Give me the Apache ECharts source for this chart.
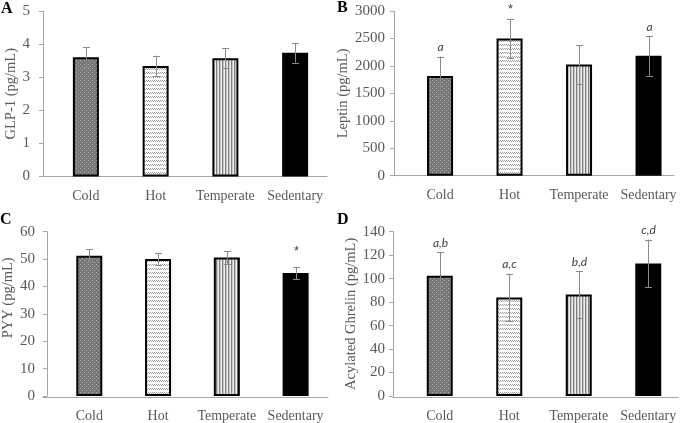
<!DOCTYPE html>
<html><head><meta charset="utf-8">
<script src="https://cdn.jsdelivr.net/npm/echarts@6/dist/echarts.min.js"></script>
<style>html,body{margin:0;padding:0;background:#fff}#c{width:685px;height:423px}</style>
</head><body><div id="c"></div>
<script>
const categories = ['Cold', 'Hot', 'Temperate', 'Sedentary'];

const glp1Values = [3.60, 3.34, 3.57, 3.74];
const glp1Err = [0.30, 0.31, 0.30, 0.30];
const glp1Ann = ['', '', '', ''];

const leptinValues = [1815, 2500, 2025, 2185];
const leptinErr = [355, 355, 355, 365];
const leptinAnn = ['a', '*', '', 'a'];

const pyyValues = [51.2, 50.0, 50.6, 44.9];
const pyyErr = [2.4, 2.2, 2.3, 2.3];
const pyyAnn = ['', '', '', '*'];

const ghrelinValues = [102.5, 84.0, 86.5, 113.0];
const ghrelinErr = [20.0, 20.3, 20.3, 20.3];
const ghrelinAnn = ['a,b', 'a,c', 'b,d', 'c,d'];

const yMax = [5, 3000, 60, 140];
const yInterval = [1, 500, 10, 20];
const yNames = ['GLP-1 (pg/mL)', 'Leptin (pg/mL)', 'PYY (pg/mL)', 'Acylated Ghrelin (pg/mL)'];
const panelLetters = ['A', 'B', 'C', 'D'];

// ---- patterns ----
function makePattern(kind) {
  const c = document.createElement('canvas');
  const ctx = c.getContext('2d');
  if (kind === 'dots') {
    c.width = 4; c.height = 4;
    ctx.fillStyle = '#767676'; ctx.fillRect(0, 0, 4, 4);
    ctx.fillStyle = '#b4b4b4';
    ctx.fillRect(0, 0, 1, 1); ctx.fillRect(2, 2, 1, 1);
  } else if (kind === 'zigzag') {
    c.width = 4; c.height = 4;
    ctx.fillStyle = '#ffffff'; ctx.fillRect(0, 0, 4, 4);
    ctx.fillStyle = '#a0a0a0';
    ctx.fillRect(0, 0, 1, 1); ctx.fillRect(2, 0, 1, 1);
    ctx.fillRect(1, 1, 1, 1); ctx.fillRect(3, 1, 1, 1);
  } else if (kind === 'vstripes') {
    c.width = 3; c.height = 3;
    ctx.fillStyle = '#eeeeee'; ctx.fillRect(0, 0, 3, 3);
    ctx.fillStyle = '#7f7f7f'; ctx.fillRect(0, 0, 1, 3);
    ctx.fillStyle = '#c8c8c8'; ctx.fillRect(1, 0, 1, 3);
  }
  return { image: c, repeat: 'repeat' };
}
const fills = [makePattern('dots'), makePattern('zigzag'), makePattern('vstripes'), '#000000'];

// ---- layout (pixels) ----
const panels = [
  { vals: glp1Values, err: glp1Err, ann: glp1Ann, grid: { left: 51, top: 11, width: 279, height: 165.5 }, axisX: 43, axisEnd: 327, labelMargin: 13, nameGap: 20, namePad: 0, annDist: 3, letter: { left: 1, top: 1 } },
  { vals: leptinValues, err: leptinErr, ann: leptinAnn, grid: { left: 405.3, top: 11, width: 278, height: 164.7 }, axisX: 394, axisEnd: 674, labelMargin: 9, nameGap: 39, namePad: 0, annDist: 3, letter: { left: 337, top: 0 } },
  { vals: pyyValues, err: pyyErr, ann: pyyAnn, grid: { left: 51, top: 231.7, width: 279, height: 166 }, axisX: 43, axisEnd: 328, labelMargin: 12, nameGap: 27, namePad: 32, annDist: 9, letter: { left: 0, top: 212 } },
  { vals: ghrelinValues, err: ghrelinErr, ann: ghrelinAnn, grid: { left: 405, top: 231.7, width: 278, height: 166 }, axisX: 393, axisEnd: 678, labelMargin: 8, nameGap: 31, namePad: 0, annDist: 3, letter: { left: 337, top: 212 } }
];

const grids = [], xAxes = [], yAxes = [], series = [], titles = [];
const serif = 'Liberation Serif';
const gray = '#595959';

panels.forEach((p, k) => {
  grids.push(p.grid);
  xAxes.push({
    type: 'category', gridIndex: 2 * k, data: categories,
    axisLine: { show: false }, axisTick: { show: false },
    axisLabel: { color: gray, fontSize: 14, fontFamily: serif, margin: 13, interval: 0 }
  });
  yAxes.push({
    type: 'value', gridIndex: 2 * k, min: 0, max: yMax[k], interval: yInterval[k],
    offset: p.grid.left - p.axisX,
    name: yNames[k], nameLocation: 'middle', nameGap: p.nameGap, nameRotate: 90,
    nameTextStyle: { color: gray, fontSize: 14.5, fontFamily: serif, padding: [0, 0, 0, p.namePad] },
    axisLine: { show: true, lineStyle: { color: '#a6a6a6', width: 1 } },
    axisTick: { show: true, inside: false, length: 4, lineStyle: { color: '#a6a6a6' } },
    axisLabel: { color: gray, fontSize: 15, fontFamily: serif, margin: p.labelMargin, formatter: v => String(v) },
    splitLine: { show: false }
  });
  const bottom = p.grid.top + p.grid.height;
  grids.push({ left: p.axisX, top: bottom - 1, width: p.axisEnd - p.axisX, height: 1 });
  xAxes.push({
    type: 'value', gridIndex: 2 * k + 1, min: 0, max: 1,
    axisLine: { show: true, onZero: false, lineStyle: { color: '#a6a6a6', width: 1 } },
    axisTick: { show: false }, axisLabel: { show: false }, splitLine: { show: false }
  });
  yAxes.push({ type: 'value', gridIndex: 2 * k + 1, show: false });

  series.push({
    type: 'bar', xAxisIndex: 2 * k, yAxisIndex: 2 * k, barWidth: 26,
    data: p.vals.map((v, i) => ({
      value: v,
      itemStyle: { color: fills[i], borderColor: '#000', borderWidth: i === 3 ? 0 : 2 }
    })),
    z: 2, silent: true
  });
  const ann = p.ann, dist = p.annDist;
  series.push({
    type: 'custom', xAxisIndex: 2 * k, yAxisIndex: 2 * k, z: 5, silent: true,
    data: p.vals.map((v, i) => [i, v - p.err[i], v + p.err[i]]),
    renderItem: function (params, api) {
      const i = api.value(0);
      const hi = api.coord([i, api.value(2)]);
      const lo = api.coord([i, api.value(1)]);
      const x = Math.round(hi[0]) + 0.5;
      const st = { stroke: '#8a8a8a', lineWidth: 1 };
      const ch = [
        { type: 'line', shape: { x1: x, y1: hi[1], x2: x, y2: lo[1] }, style: st },
        { type: 'line', shape: { x1: x - 3.5, y1: Math.round(hi[1]) + 0.5, x2: x + 3.5, y2: Math.round(hi[1]) + 0.5 }, style: st },
        { type: 'line', shape: { x1: x - 3.5, y1: Math.round(lo[1]) + 0.5, x2: x + 3.5, y2: Math.round(lo[1]) + 0.5 }, style: st }
      ];
      const a = ann[params.dataIndex];
      if (a) {
        const star = a === '*';
        ch.push({
          type: 'text',
          style: {
            text: a, x: x, y: hi[1] - dist, align: 'center', verticalAlign: 'bottom',
            fill: '#404040',
            font: (star ? 'normal 13px "Liberation Sans"' : 'italic 12px Lato')
          }
        });
      }
      return { type: 'group', children: ch };
    }
  });
  titles.push({
    text: panelLetters[k], left: p.letter.left, top: p.letter.top, padding: 0,
    textStyle: { fontFamily: serif, fontWeight: 'bold', fontSize: 16, color: '#000' }
  });
});

const chart = echarts.init(document.getElementById('c'), null, { renderer: 'canvas' });
chart.setOption({
  animation: false,
  backgroundColor: '#ffffff',
  title: titles,
  grid: grids,
  xAxis: xAxes,
  yAxis: yAxes,
  series: series
});
</script></body></html>
